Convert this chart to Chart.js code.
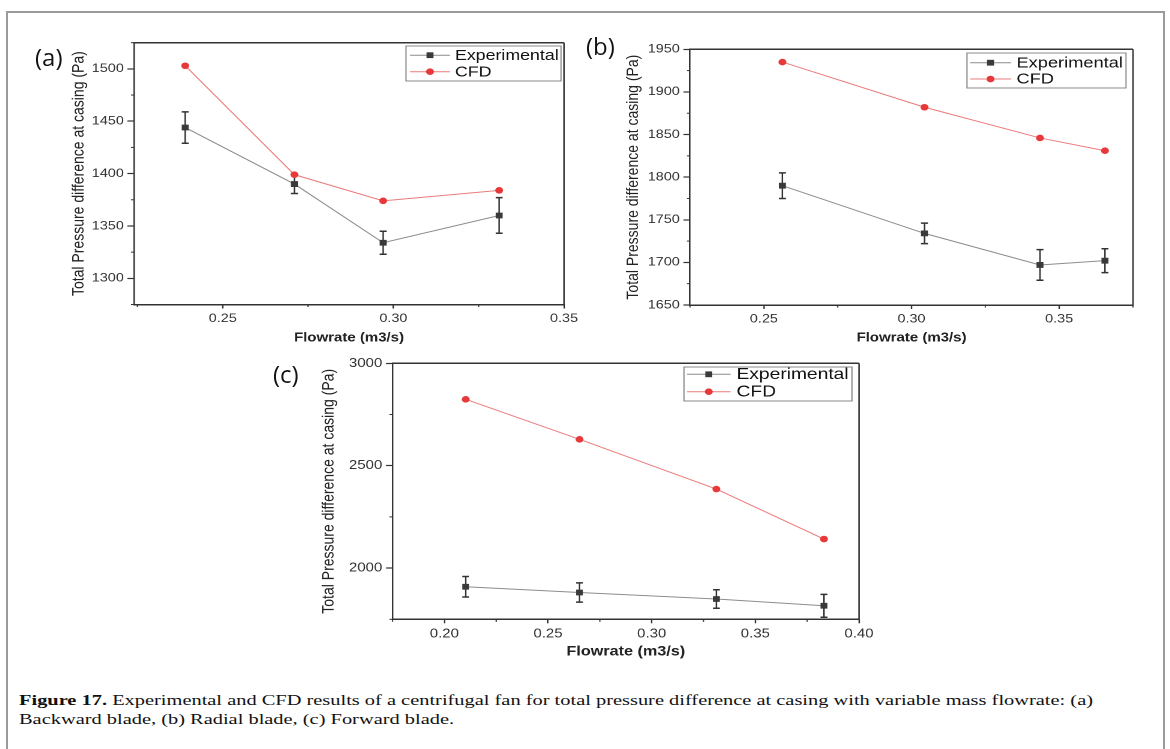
<!DOCTYPE html>
<html>
<head>
<meta charset="utf-8">
<script src="https://cdn.jsdelivr.net/npm/chart.js@4.4.1/dist/chart.umd.min.js"></script>
<style>
  html, body { margin:0; padding:0; background:#fff; width:1170px; height:749px; overflow:hidden; }
  #frame { position:absolute; left:6px; top:11px; width:1159px; height:800px; border:2px solid #9a9a9a; box-sizing:border-box; }
  .panel { position:absolute; transform-origin:0 0; }
  .panel canvas { display:block; }
  .tag { position:absolute; font-family:'Open Sans', sans-serif; font-size:24px; line-height:1; color:#111; white-space:nowrap; }
  #caption { position:absolute; left:19px; top:690px; font-family:'Liberation Serif', 'Times New Roman', serif; font-size:15.5px; line-height:19px; color:#111; white-space:nowrap; transform-origin:0 0; }
</style>
</head>
<body>
<div id="frame"></div>
<div id="caption"><span id="cap1"><b>Figure 17.</b> Experimental and CFD results of a centrifugal fan for total pressure difference at casing with variable mass flowrate: (a)</span><br><span>Backward blade, (b) Radial blade, (c) Forward blade.</span></div>
<script>
// ---------------- data ----------------
const seriesLabels = ['Experimental', 'CFD'];
const xTitle = 'Flowrate (m3/s)';
const yTitle = 'Total Pressure difference at casing (Pa)';

// (a) Backward blade
const flowA   = [0.239, 0.271, 0.297, 0.331];
const expA    = [1444, 1390, 1334, 1360];
const errA    = [15, 9, 11, 17];
const cfdA    = [1503, 1399, 1374, 1384];
const xTicksA = [0.25, 0.30, 0.35];
const yTicksA = [1300, 1350, 1400, 1450, 1500];

// (b) Radial blade
const flowB   = [0.2563, 0.3044, 0.3435, 0.3655];
const expB    = [1790, 1734, 1697, 1702];
const errB    = [15, 12, 18, 14];
const cfdB    = [1935, 1882, 1846, 1831];
const xTicksB = [0.25, 0.30, 0.35];
const yTicksB = [1650, 1700, 1750, 1800, 1850, 1900, 1950];

// (c) Forward blade
const flowC   = [0.2103, 0.2652, 0.3312, 0.3831];
const expC    = [1909, 1881, 1849, 1816];
const errC    = [50, 47, 45, 56];
const cfdC    = [2824, 2629, 2386, 2142];
const xTicksC = [0.20, 0.25, 0.30, 0.35, 0.40];
const yTicksC = [2000, 2500, 3000];

// ---------------- layout / style ----------------
const S = 1.2;   // horizontal stretch of the reference panels
const FONT = "'Liberation Sans', Arial, sans-serif";
Chart.defaults.font.family = FONT;
Chart.defaults.color = '#333';

const panels = [
  { tag:'(a)', flow:flowA, exp:expA, err:errA, cfd:cfdA, xTicks:xTicksA, yTicks:yTicksA,
    xRange:[0.224, 0.35], yRange:[1275, 1525],
    box:{x:14, y:18, w:575, h:338}, plot:{l:134, r:564, t:42.7, b:304.5},
    yTitleX:79, xTitleY:338, xTitleSize:12.5, tickSize:12,
    legend:{l:406, r:561, t:46, b:81, rows:[55.2, 71.7], lineL:410, lineR:450, textX:455, size:14.8},
    tagPos:{x:35, y:45} },
  { tag:'(b)', flow:flowB, exp:expB, err:errB, cfd:cfdB, xTicks:xTicksB, yTicks:yTicksB,
    xRange:[0.225, 0.375], yRange:[1650, 1950],
    box:{x:596, y:18, w:560, h:338}, plot:{l:690, r:1133, t:49.3, b:305},
    yTitleX:633.5, xTitleY:338, xTitleSize:12.5, tickSize:12,
    legend:{l:967, r:1126, t:53, b:88, rows:[62.7, 79], lineL:970, lineR:1011, textX:1016.5, size:15.2},
    tagPos:{x:586, y:34} },
  { tag:'(c)', flow:flowC, exp:expC, err:errC, cfd:cfdC, xTicks:xTicksC, yTicks:yTicksC,
    xRange:[0.175, 0.40], yRange:[1750, 3000],
    box:{x:270, y:345, w:610, h:325}, plot:{l:392.5, r:859, t:363.3, b:619.3},
    yTitleX:329, xTitleY:652, xTitleSize:13.5, tickSize:12.5,
    legend:{l:684, r:852, t:367, b:401, rows:[374.3, 391.7], lineL:687, lineR:730.5, textX:736.5, size:16},
    tagPos:{x:273, y:362} }
];

function minorOf(ticks, range) {
  const step = ticks[1] - ticks[0];
  const out = [];
  for (let v = ticks[0] - step / 2; v <= range[1] + 1e-9; v += step) {
    if (v >= range[0] - 1e-9) out.push(+v.toFixed(6));
  }
  return out;
}

// ---------------- plugins ----------------
const frameBox = {
  id: 'frameBox',
  afterDraw(chart) {
    const {ctx, chartArea: a} = chart;
    ctx.save();
    ctx.strokeStyle = '#333';
    ctx.lineWidth = 1.5;
    ctx.beginPath(); ctx.moveTo(a.left, a.top); ctx.lineTo(a.right, a.top); ctx.stroke();
    ctx.lineWidth = 1.25;
    ctx.beginPath(); ctx.moveTo(a.right, a.top); ctx.lineTo(a.right, a.bottom); ctx.stroke();
    ctx.restore();
  }
};

const minorTicks = {
  id: 'minorTicks',
  afterDraw(chart, args, o) {
    const {ctx, chartArea: a, scales: {x, y}} = chart;
    ctx.save();
    ctx.strokeStyle = '#333';
    ctx.lineWidth = 1;
    (o.x || []).forEach(v => {
      const px = x.getPixelForValue(v);
      ctx.beginPath(); ctx.moveTo(px, a.bottom); ctx.lineTo(px, a.bottom + 2.5); ctx.stroke();
    });
    (o.y || []).forEach(v => {
      const py = y.getPixelForValue(v);
      ctx.beginPath(); ctx.moveTo(a.left, py); ctx.lineTo(a.left - 2.5, py); ctx.stroke();
    });
    ctx.restore();
  }
};

const errorBars = {
  id: 'errorBars',
  beforeDatasetsDraw(chart) {
    const {ctx, scales: {x, y}} = chart;
    ctx.save();
    chart.data.datasets.forEach(ds => {
      if (!ds.errors) return;
      ctx.strokeStyle = '#333';
      ds.data.forEach((pt, i) => {
        const e = ds.errors[i];
        const px = x.getPixelForValue(pt.x);
        const pTop = y.getPixelForValue(pt.y + e);
        const pBot = y.getPixelForValue(pt.y - e);
        const cap = 2.9;
        ctx.lineWidth = 1.25;
        ctx.beginPath(); ctx.moveTo(px, pTop); ctx.lineTo(px, pBot); ctx.stroke();
        ctx.lineWidth = 1.5;
        ctx.beginPath();
        ctx.moveTo(px - cap, pTop); ctx.lineTo(px + cap, pTop);
        ctx.moveTo(px - cap, pBot); ctx.lineTo(px + cap, pBot);
        ctx.stroke();
      });
    });
    ctx.restore();
  }
};

const boxLegend = {
  id: 'boxLegend',
  afterDraw(chart, args, o) {
    const ctx = chart.ctx;
    ctx.save();
    ctx.fillStyle = '#fff';
    ctx.fillRect(o.l, o.t, o.r - o.l, o.b - o.t);
    ctx.strokeStyle = '#8a8a8a';
    ctx.lineWidth = 1;
    ctx.strokeRect(o.l, o.t, o.r - o.l, o.b - o.t);
    ctx.font = `${o.size}px ${FONT}`;
    ctx.textBaseline = 'middle';
    ctx.textAlign = 'left';
    chart.data.datasets.forEach((ds, i) => {
      const yy = o.rows[i];
      ctx.strokeStyle = ds.borderColor;
      ctx.lineWidth = ds.borderWidth;
      ctx.beginPath(); ctx.moveTo(o.lineL, yy); ctx.lineTo(o.lineR, yy); ctx.stroke();
      const cx = (o.lineL + o.lineR) / 2;
      ctx.fillStyle = ds.pointBackgroundColor;
      if (ds.pointStyle === 'rect') {
        const h = ds.pointRadius / Math.SQRT2;
        ctx.fillRect(cx - h, yy - h, 2 * h, 2 * h);
      } else {
        ctx.beginPath(); ctx.arc(cx, yy, ds.pointRadius, 0, Math.PI * 2); ctx.fill();
      }
      ctx.fillStyle = '#111';
      ctx.fillText(ds.label, o.textX, yy + 0.5);
    });
    ctx.restore();
  }
};

// ---------------- build panels ----------------
panels.forEach(p => {
  const cw = Math.round(p.box.w / S), ch = p.box.h;
  const ux = v => (v - p.box.x) / S;
  const uy = v => v - p.box.y;

  const wrap = document.createElement('div');
  wrap.className = 'panel';
  wrap.style.left = p.box.x + 'px';
  wrap.style.top = p.box.y + 'px';
  wrap.style.width = cw + 'px';
  wrap.style.height = ch + 'px';
  wrap.style.transform = `scaleX(${S})`;
  const canvas = document.createElement('canvas');
  canvas.width = cw; canvas.height = ch;
  wrap.appendChild(canvas);
  document.body.appendChild(wrap);

  const tag = document.createElement('div');
  tag.className = 'tag';
  tag.textContent = p.tag;
  tag.style.left = p.tagPos.x + 'px';
  tag.style.top = p.tagPos.y + 'px';
  document.body.appendChild(tag);

  const plotL = ux(p.plot.l), plotR = ux(p.plot.r), plotT = uy(p.plot.t), plotB = uy(p.plot.b);
  const yTitleSize = 14, yTitleLH = yTitleSize * 1.2;
  const xTitleLH = p.xTitleSize * 1.2;
  const yTitlePad = ux(p.yTitleX) - yTitleLH / 2;
  const xTitlePad = ch - uy(p.xTitleY) - xTitleLH / 2;
  const L = p.legend;

  new Chart(canvas, {
    type: 'line',
    data: {
      datasets: [
        { label: seriesLabels[0],
          data: p.flow.map((x, i) => ({x, y: p.exp[i]})),
          errors: p.err,
          borderColor: '#8c8c8c', borderWidth: 1,
          pointStyle: 'rect', pointRadius: 4.1, pointBorderWidth: 0,
          pointBackgroundColor: '#3a3a3a', pointBorderColor: '#3a3a3a' },
        { label: seriesLabels[1],
          data: p.flow.map((x, i) => ({x, y: p.cfd[i]})),
          borderColor: '#ec7b7b', borderWidth: 1,
          pointStyle: 'circle', pointRadius: 3.3, pointBorderWidth: 0,
          pointBackgroundColor: '#e8393a', pointBorderColor: '#e8393a' }
      ]
    },
    options: {
      responsive: false,
      animation: false,
      devicePixelRatio: 2,
      layout: { padding: { left: 0, top: plotT, right: cw - plotR, bottom: 0 } },
      plugins: {
        legend: { display: false },
        tooltip: { enabled: false },
        minorTicks: { x: minorOf(p.xTicks, p.xRange), y: minorOf(p.yTicks, p.yRange) },
        boxLegend: { l: ux(L.l), r: ux(L.r), t: uy(L.t), b: uy(L.b),
                     rows: L.rows.map(uy), lineL: ux(L.lineL), lineR: ux(L.lineR),
                     textX: ux(L.textX), size: L.size }
      },
      scales: {
        x: {
          type: 'linear', min: p.xRange[0], max: p.xRange[1],
          afterBuildTicks: s => { s.ticks = p.xTicks.map(v => ({value: v})); },
          afterFit: s => { s.height = ch - plotB; },
          ticks: { font: {size: p.tickSize}, color: '#333', padding: 3, autoSkip: false, maxRotation: 0,
                   callback: v => Number(v).toFixed(2) },
          grid: { drawOnChartArea: false, drawTicks: true, tickLength: 4, color: '#333', tickWidth: 1.2 },
          border: { display: true, color: '#333', width: 1.5 },
          title: { display: true, text: xTitle, color: '#222',
                   font: { size: p.xTitleSize, weight: 'bold' },
                   padding: { top: 0, bottom: xTitlePad } }
        },
        y: {
          type: 'linear', min: p.yRange[0], max: p.yRange[1],
          afterBuildTicks: s => { s.ticks = p.yTicks.map(v => ({value: v})); },
          afterFit: s => { s.width = plotL; },
          ticks: { font: {size: p.tickSize}, color: '#333', padding: 3, autoSkip: false,
                   callback: v => String(v) },
          grid: { drawOnChartArea: false, drawTicks: true, tickLength: 5.5, color: '#333', tickWidth: 1.2 },
          border: { display: true, color: '#333', width: 1.25 },
          title: { display: true, text: yTitle, color: '#222',
                   font: { size: yTitleSize },
                   padding: { top: yTitlePad, bottom: 0 } }
        }
      }
    },
    plugins: [errorBars, frameBox, minorTicks, boxLegend]
  });
});

// caption: stretch to the reference line length
(function () {
  const cap = document.getElementById('caption');
  const w = document.getElementById('cap1').getBoundingClientRect().width;
  cap.style.transform = `scaleX(${1074 / w})`;
})();
</script>
</body>
</html>
